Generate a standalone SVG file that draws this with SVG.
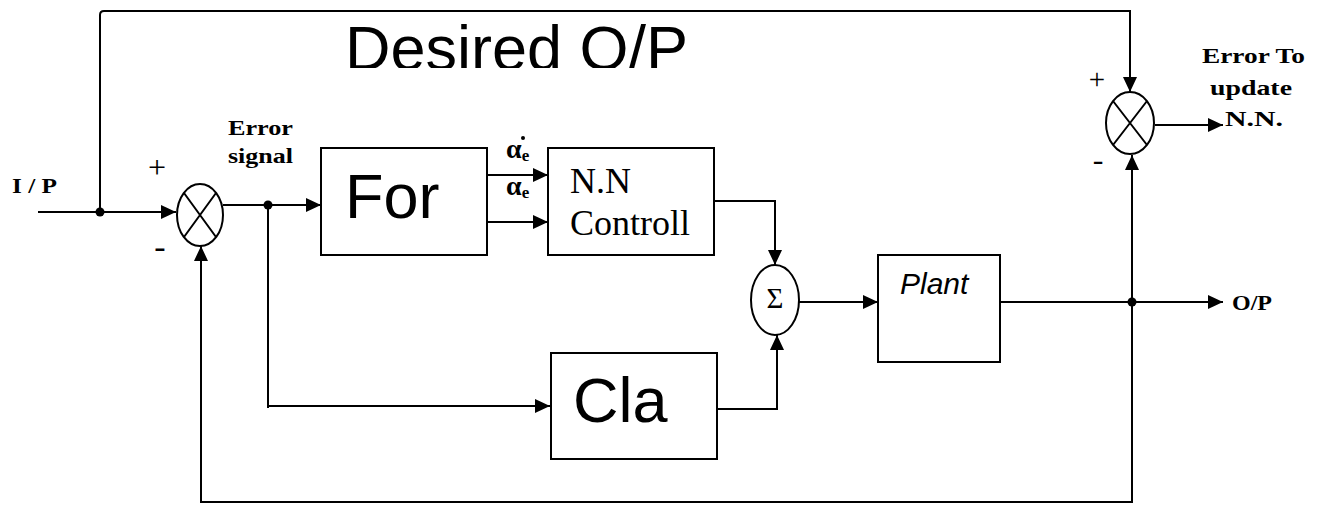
<svg xmlns="http://www.w3.org/2000/svg" width="1327" height="507" viewBox="0 0 1327 507">
<style>
.ln{fill:none;stroke:#000;stroke-width:2}
.bx{fill:#fff;stroke:#000;stroke-width:2}
.big{font-family:"Liberation Sans",Arial,sans-serif;fill:#000}
.lbl{font-family:"Liberation Serif","Times New Roman",serif;font-weight:bold;fill:#000}
.ser{font-family:"Liberation Serif","Times New Roman",serif;fill:#000}
</style>
<defs>
<marker id="ah" markerUnits="userSpaceOnUse" markerWidth="16" markerHeight="14" refX="15" refY="7" orient="auto">
<path d="M0,0 L15,7 L0,14 Z" fill="#000"/>
</marker>
<clipPath id="cl"><rect x="0" y="0" width="1327" height="68"/></clipPath>
</defs>
<rect width="1327" height="507" fill="#fff"/>
<g id="connectors">
<path class="ln" d="M38,212 H176" marker-end="url(#ah)"/>
<path class="ln" d="M100,212 V15 Q100,11 104,11 H1130 V92" marker-end="url(#ah)"/>
<path class="ln" d="M223,205 H321" marker-end="url(#ah)"/>
<path class="ln" d="M268,205 V408 M268,406 H550" marker-end="url(#ah)"/>
<path class="ln" d="M487,175 H548" marker-end="url(#ah)"/>
<path class="ln" d="M487,222 H548" marker-end="url(#ah)"/>
<path class="ln" d="M714,201 H775 V265" marker-end="url(#ah)"/>
<path class="ln" d="M717,409 H777 V335" marker-end="url(#ah)"/>
<path class="ln" d="M799,302 H878" marker-end="url(#ah)"/>
<path class="ln" d="M1000,302 H1223" marker-end="url(#ah)"/>
<path class="ln" d="M1132,302 V502 H201 V246" marker-end="url(#ah)"/>
<path class="ln" d="M1132,302 V155" marker-end="url(#ah)"/>
<path class="ln" d="M1155,125 H1223" marker-end="url(#ah)"/>
<circle cx="100" cy="212" r="4.5" fill="#000"/>
<circle cx="268" cy="205" r="4.5" fill="#000"/>
<circle cx="1132" cy="302" r="4.5" fill="#000"/>
</g>
<g id="sum1">
<ellipse class="bx" cx="200" cy="215" rx="23" ry="31"/>
<path class="ln" d="M184,193 L216,237 M216,193 L184,237"/>
<text class="ser" x="157" y="178" font-size="32" text-anchor="middle">+</text>
<text class="ser" x="160" y="258" font-size="34" text-anchor="middle">-</text>
</g>
<g id="sum2">
<ellipse class="bx" cx="1130" cy="123" rx="24" ry="31"/>
<path class="ln" d="M1113,101 L1147,145 M1147,101 L1113,145"/>
<text class="ser" x="1097" y="89" font-size="29" text-anchor="middle">+</text>
<text class="ser" x="1098" y="170" font-size="32" text-anchor="middle">-</text>
</g>
<g id="sigma">
<ellipse class="bx" cx="775" cy="300" rx="24" ry="35"/>
<text class="ser" x="775" y="308" font-size="29" text-anchor="middle">Σ</text>
</g>
<g id="for">
<rect class="bx" x="321" y="148" width="166" height="107"/>
<text class="big" x="345" y="218" font-size="63">For</text>
</g>
<g id="nn">
<rect class="bx" x="548" y="148" width="166" height="107"/>
<text class="ser" x="570" y="193" font-size="36">N.N</text>
<text class="ser" x="570" y="235" font-size="36">Controll</text>
</g>
<g id="cla">
<rect class="bx" x="551" y="353" width="166" height="106"/>
<text class="big" x="573" y="422" font-size="63">Cla</text>
</g>
<g id="plant">
<rect class="bx" x="878" y="255" width="122" height="107"/>
<text class="big" x="900" y="294" font-size="30" font-style="italic">Plant</text>
</g>
<g id="labels">
<text class="big" x="345" y="70" font-size="63" clip-path="url(#cl)">Desired O/P</text>
<text class="lbl" x="12" y="193" font-size="21" textLength="45" lengthAdjust="spacingAndGlyphs">I / P</text>
<text class="lbl" x="228" y="135" font-size="21" textLength="65" lengthAdjust="spacingAndGlyphs">Error</text>
<text class="lbl" x="228" y="163" font-size="21" textLength="65" lengthAdjust="spacingAndGlyphs">signal</text>
<text class="lbl" x="506" y="158" font-size="28">α<tspan font-size="17" dy="3">e</tspan></text>
<circle cx="523" cy="138" r="2" fill="#000"/>
<text class="lbl" x="506" y="195" font-size="28">α<tspan font-size="17" dy="3">e</tspan></text>
<text class="lbl" x="1202" y="63" font-size="21" textLength="103" lengthAdjust="spacingAndGlyphs">Error To</text>
<text class="lbl" x="1210" y="95" font-size="21" textLength="82" lengthAdjust="spacingAndGlyphs">update</text>
<text class="lbl" x="1225" y="126" font-size="21" textLength="58" lengthAdjust="spacingAndGlyphs">N.N.</text>
<text class="lbl" x="1232" y="310" font-size="21" textLength="40" lengthAdjust="spacingAndGlyphs">O/P</text>
</g>
</svg>
